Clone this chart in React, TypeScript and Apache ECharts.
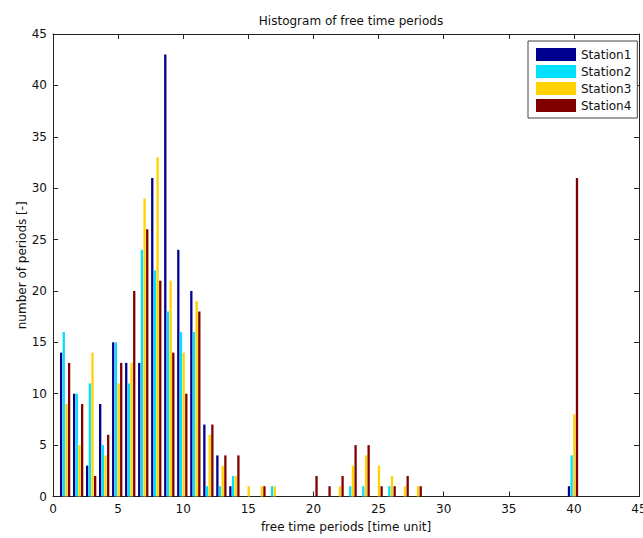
import React, { useEffect, useRef } from "react";
import * as echarts from "echarts";

const binCenters = [
  0.93, 1.93, 2.93, 3.93, 4.93, 5.93, 6.93, 7.93, 8.93, 9.93,
  10.93, 11.93, 12.93, 13.93, 14.93, 15.93, 16.93, 17.93, 18.93, 19.93,
  20.93, 21.93, 22.93, 23.93, 24.93, 25.93, 26.93, 27.93, 28.93, 29.93,
  30.93, 31.93, 32.93, 33.93, 34.93, 35.93, 36.93, 37.93, 38.93, 39.93,
];

const station1 = [
  14, 10, 3, 9, 15, 13, 13, 31, 43, 24,
  20, 7, 4, 1, 0, 0, 0, 0, 0, 0,
  0, 0, 0, 0, 0, 0, 0, 0, 0, 0,
  0, 0, 0, 0, 0, 0, 0, 0, 0, 1,
];
const station2 = [
  16, 10, 11, 5, 15, 11, 24, 22, 18, 16,
  16, 1, 1, 2, 0, 0, 1, 0, 0, 0,
  0, 0, 1, 1, 0, 1, 0, 0, 0, 0,
  0, 0, 0, 0, 0, 0, 0, 0, 0, 4,
];
const station3 = [
  9, 5, 14, 4, 11, 13, 29, 33, 21, 14,
  19, 6, 3, 2, 1, 1, 1, 0, 0, 0,
  0, 1, 3, 4, 3, 2, 1, 1, 0, 0,
  0, 0, 0, 0, 0, 0, 0, 0, 0, 8,
];
const station4 = [
  13, 9, 2, 6, 13, 20, 26, 21, 14, 10,
  18, 7, 4, 4, 0, 1, 0, 0, 0, 2,
  1, 2, 5, 5, 1, 1, 2, 1, 0, 0,
  0, 0, 0, 0, 0, 0, 0, 0, 0, 31,
];

const seriesNames = ["Station1", "Station2", "Station3", "Station4"];
const seriesValues = [station1, station2, station3, station4];
const seriesColors = ["#00008f", "#00e0ff", "#ffd200", "#800000"];

const xMin = 0;
const xMax = 45;
const xInterval = 5;
const yMin = 0;
const yMax = 45;
const yInterval = 5;

const titleText = "Histogram of free time periods";
const xName = "free time periods [time unit]";
const yName = "number of periods [-]";

const FONT = "DejaVu Sans";

export default function App() {
  const ref = useRef<HTMLDivElement>(null);

  useEffect(() => {
    if (!ref.current) return;
    const chart = echarts.init(ref.current, undefined, { renderer: "svg" });

    const axisLine = { show: true, onZero: false, lineStyle: { color: "#222", width: 1 } };
    const tick = { show: true, inside: true, length: 5, lineStyle: { color: "#222", width: 1 } };
    const label = { color: "#111", fontFamily: FONT, fontSize: 12 };

    chart.setOption({
      animation: false,
      backgroundColor: "#fff",
      title: {
        text: titleText,
        left: 346,
        top: 10,
        textAlign: "center",
        textStyle: { fontFamily: FONT, fontSize: 12, fontWeight: "normal", color: "#111" },
      },
      legend: {
        orient: "vertical",
        left: 528,
        top: 41,
        data: seriesNames,
        icon: "rect",
        itemWidth: 40,
        itemHeight: 13,
        itemGap: 4,
        padding: [7, 6, 6, 8],
        borderColor: "#444",
        borderWidth: 1,
        backgroundColor: "#fff",
        textStyle: { fontFamily: FONT, fontSize: 12, color: "#111" },
      },
      grid: {
        left: 53,
        right: 4,
        top: 34,
        bottom: 41.5,
        containLabel: false,
        outerBoundsMode: "none",
      },
      xAxis: [
        {
          type: "value",
          min: xMin,
          max: xMax,
          interval: xInterval,
          position: "bottom",
          axisLine,
          axisTick: tick,
          axisLabel: { ...label, margin: 6 },
          splitLine: { show: false },
          name: xName,
          nameLocation: "middle",
          nameGap: 24,
          nameMoveOverlap: false,
          nameTextStyle: { fontFamily: FONT, fontSize: 12, color: "#111" },
        },
        {
          type: "value",
          min: xMin,
          max: xMax,
          interval: xInterval,
          position: "top",
          axisLine,
          axisTick: tick,
          axisLabel: { show: false },
          splitLine: { show: false },
        },
      ],
      yAxis: [
        {
          type: "value",
          min: yMin,
          max: yMax,
          interval: yInterval,
          position: "left",
          axisLine,
          axisTick: tick,
          axisLabel: { ...label, margin: 6 },
          splitLine: { show: false },
          name: yName,
          nameLocation: "middle",
          nameGap: 25,
          nameMoveOverlap: false,
          nameTextStyle: { fontFamily: FONT, fontSize: 12, color: "#111" },
        },
        {
          type: "value",
          min: yMin,
          max: yMax,
          interval: yInterval,
          position: "right",
          axisLine,
          axisTick: tick,
          axisLabel: { show: false },
          splitLine: { show: false },
        },
      ],
      series: seriesNames.map((name, i) => ({
        name,
        type: "bar",
        xAxisIndex: 0,
        yAxisIndex: 0,
        barWidth: 2.3,
        barGap: "16%",
        itemStyle: { color: seriesColors[i] },
        data: binCenters.map((x, j) => [x, seriesValues[i][j]]),
      })),
    });

    return () => chart.dispose();
  }, []);

  return (
    <div
      ref={ref}
      style={{ position: "fixed", left: 0, top: 0, width: 643, height: 538 }}
    />
  );
}
